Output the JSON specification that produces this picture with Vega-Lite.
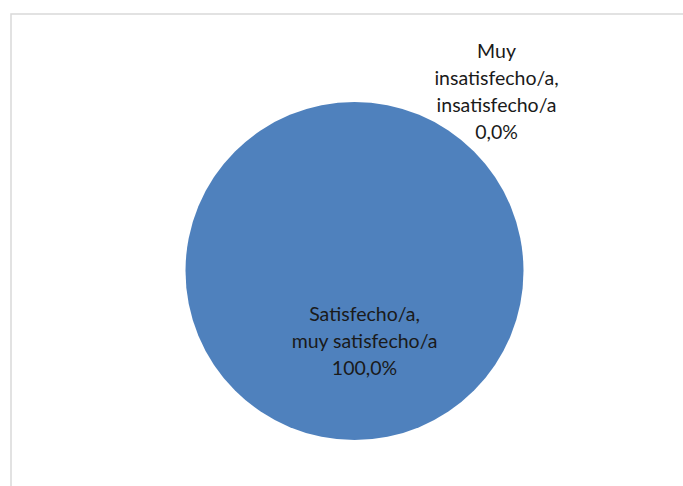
{
  "$schema": "https://vega.github.io/schema/vega-lite/v6.json",
  "width": 687,
  "height": 514,
  "autosize": {"type": "none"},
  "padding": {"left": 11, "top": 14, "right": -15, "bottom": -42},
  "background": "white",
  "view": {"stroke": "#d9d9d9", "strokeWidth": 1.5},
  "data": {
    "values": [
      {"categoria": "Satisfecho/a, muy satisfecho/a", "porcentaje": 100.0, "etiqueta": ["Satisfecho/a,", "muy satisfecho/a", "100,0%"]},
      {"categoria": "Muy insatisfecho/a, insatisfecho/a", "porcentaje": 0.0, "etiqueta": ["Muy", "insatisfecho/a,", "insatisfecho/a", "0,0%"]}
    ]
  },
  "encoding": {
    "theta": {"field": "porcentaje", "type": "quantitative", "stack": true}
  },
  "layer": [
    {
      "mark": {"type": "arc", "outerRadius": 169, "stroke": null},
      "encoding": {
        "color": {"field": "categoria", "type": "nominal", "scale": {"range": ["#4F81BD", "#C0504D"], "domain": ["Satisfecho/a, muy satisfecho/a", "Muy insatisfecho/a, insatisfecho/a"]}, "legend": null}
      }
    },
    {
      "mark": {"type": "text", "radius": 44, "dx": 10, "font": "Lato", "fontSize": 19.5, "lineHeight": 27, "color": "#1a1a1a", "align": "center", "baseline": "middle"},
      "encoding": {
        "text": {"condition": {"test": "datum.porcentaje > 0", "field": "etiqueta"}, "value": ""}
      }
    },
    {
      "mark": {"type": "text", "radius": 219, "dx": 142, "font": "Lato", "fontSize": 19.5, "lineHeight": 27, "color": "#1a1a1a", "align": "center", "baseline": "middle"},
      "encoding": {
        "text": {"condition": {"test": "datum.porcentaje == 0", "field": "etiqueta"}, "value": ""}
      }
    }
  ]
}
